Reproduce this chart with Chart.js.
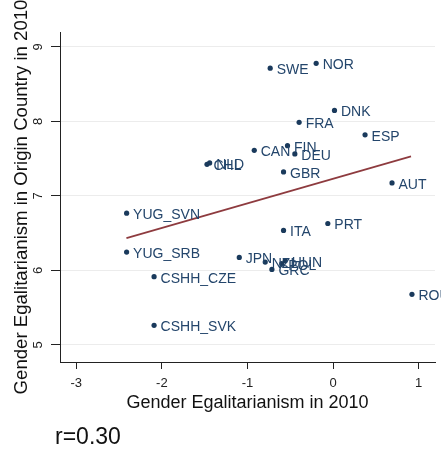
<!DOCTYPE html>
<html>
<head>
<meta charset="utf-8">
<script src="https://cdn.jsdelivr.net/npm/chart.js@4/dist/chart.umd.min.js"></script>
<style>
  html, body { margin: 0; padding: 0; background: #ffffff; }
  canvas { display: block; }
</style>
</head>
<body>
<canvas id="chart" width="441" height="451"></canvas>
<script>
// Country codes and their egalitarianism scores
const countries = ["SWE", "NOR", "DNK", "FRA", "ESP", "CAN", "FIN", "DEU", "CHL", "NLD", "GBR", "AUT",
  "YUG_SVN", "ITA", "PRT", "YUG_SRB", "JPN", "NZL", "GRC", "POL", "HUN", "CSHH_CZE", "ROU", "CSHH_SVK"];
const egal2010 = [-0.735, -0.198, 0.016, -0.397, 0.373, -0.921, -0.533, -0.447, -1.473, -1.442, -0.579, 0.688,
  -2.412, -0.579, -0.062, -2.412, -1.096, -0.793, -0.715, -0.60, -0.56, -2.091, 0.921, -2.091];
const egalOrigin = [8.714, 8.78, 8.147, 7.987, 7.82, 7.612, 7.674, 7.563, 7.424, 7.442, 7.321, 7.174,
  6.768, 6.536, 6.629, 6.246, 6.174, 6.112, 6.013, 6.09, 6.13, 5.915, 5.679, 5.263];

// Fitted line endpoints
const fitX = [-2.414, 0.91];
const fitY = [6.433, 7.531];

// Axis tick values
const xTicks = [-3, -2, -1, 0, 1];
const yTicks = [5, 6, 7, 8, 9];

const captionText = "r=0.30";
const FONT = "'Liberation Sans', Arial, Helvetica, sans-serif";
const NAVY = "#1a3a5c";

const points = egal2010.map((x, i) => ({ x: x, y: egalOrigin[i] }));
const fitPoints = fitX.map((x, i) => ({ x: x, y: fitY[i] }));

// Country codes written to the right of each marker
const markerLabels = {
  id: 'markerLabels',
  afterDatasetsDraw(chart) {
    const ctx = chart.ctx;
    const meta = chart.getDatasetMeta(0);
    ctx.save();
    ctx.font = "14px " + FONT;
    ctx.fillStyle = "#23456b";
    ctx.textAlign = "left";
    ctx.textBaseline = "middle";
    meta.data.forEach((pt, i) => {
      ctx.fillText(countries[i], pt.x + 6.5, pt.y + 2);
    });
    ctx.restore();
  }
};

// Correlation note under the plot
const caption = {
  id: 'caption',
  afterDraw(chart) {
    const ctx = chart.ctx;
    ctx.save();
    ctx.font = "23px " + FONT;
    ctx.fillStyle = "#111111";
    ctx.textAlign = "left";
    ctx.textBaseline = "middle";
    ctx.fillText(captionText, 55, 438);
    ctx.restore();
  }
};

new Chart(document.getElementById('chart'), {
  data: {
    datasets: [
      {
        type: 'scatter',
        data: points,
        pointRadius: 2.6,
        pointHoverRadius: 2.6,
        pointBackgroundColor: NAVY,
        pointBorderColor: NAVY,
        pointBorderWidth: 0,
        order: 1
      },
      {
        type: 'line',
        data: fitPoints,
        borderColor: "#8e3b3f",
        borderWidth: 1.7,
        pointRadius: 0,
        fill: false,
        tension: 0,
        order: 2
      }
    ]
  },
  options: {
    responsive: false,
    animation: false,
    events: [],
    layout: { padding: { top: 32, right: 6, bottom: 37, left: 0 } },
    plugins: {
      legend: { display: false },
      tooltip: { enabled: false }
    },
    scales: {
      x: {
        type: 'linear',
        min: -3.19,
        max: 1.19,
        afterBuildTicks(scale) { scale.ticks = xTicks.map(v => ({ value: v })); },
        afterFit(scale) { scale.height = 52; },
        grid: {
          drawOnChartArea: false,
          drawTicks: true,
          tickLength: 7,
          tickColor: "#222222"
        },
        border: { display: true, color: "#222222", width: 1 },
        ticks: {
          font: { family: FONT, size: 13 },
          color: "#222222",
          padding: 7,
          maxRotation: 0
        },
        title: {
          display: true,
          text: "Gender Egalitarianism in 2010",
          font: { family: FONT, size: 18 },
          color: "#111111",
          padding: { top: 0, bottom: 0 }
        }
      },
      y: {
        type: 'linear',
        min: 4.77,
        max: 9.2,
        afterBuildTicks(scale) { scale.ticks = yTicks.map(v => ({ value: v })); },
        afterFit(scale) { scale.width = 60; },
        grid: {
          drawOnChartArea: true,
          color: "#ececec",
          lineWidth: 1,
          drawTicks: true,
          tickLength: 9,
          tickColor: "#222222"
        },
        border: { display: true, color: "#222222", width: 1 },
        ticks: {
          font: { family: FONT, size: 13 },
          color: "#222222",
          padding: 9,
          minRotation: 90,
          maxRotation: 90,
          crossAlign: 'center'
        },
        title: {
          display: true,
          text: "Gender Egalitarianism in Origin Country in 2010",
          font: { family: FONT, size: 18.6 },
          color: "#111111",
          padding: { top: 10.5, bottom: 0 }
        }
      }
    }
  },
  plugins: [markerLabels, caption]
});
</script>
</body>
</html>
